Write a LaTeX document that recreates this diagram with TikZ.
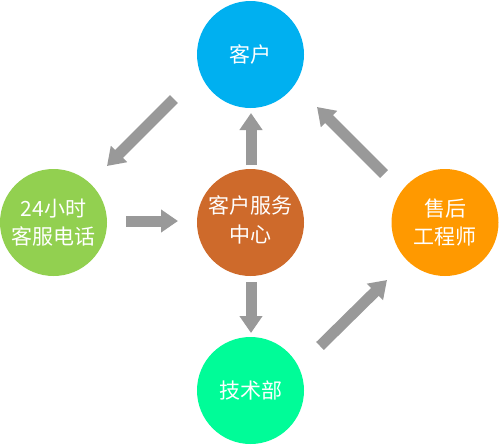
\documentclass[tikz,border=0pt]{standalone}
\usepackage{fontspec}
\setmainfont{Noto Sans CJK SC}
\usetikzlibrary{arrows.meta}
\definecolor{cblue}{RGB}{0,176,240}
\definecolor{cgreen}{RGB}{146,208,80}
\definecolor{cbrown}{RGB}{206,106,43}
\definecolor{corange}{RGB}{255,153,0}
\definecolor{cmint}{RGB}{0,252,152}
\definecolor{cgray}{RGB}{153,153,153}
\begin{document}
\begin{tikzpicture}[x=1pt,y=-1pt,
  ball/.style={circle,minimum size=107pt,inner sep=0pt,text=white,align=center,
    font=\fontsize{21pt}{28.5pt}\selectfont},
  blockarrow/.style={draw=cgray,line width=11pt,-{Triangle[length=17pt,width=22pt]}}]
\useasboundingbox (0,0) rectangle (500,445);
\node[ball,fill=cblue]   (kehu)  at (250.5,54.5)  {客户};
\node[ball,fill=cgreen]  (dianhua) at (53.5,222.5) {24小时\\客服电话};
\node[ball,fill=cbrown]  (zhongxin) at (250.5,222.5) {\raisebox{-3pt}{\begin{tabular}{@{}c@{}}客户服务\\中心\end{tabular}}};
\node[ball,fill=corange] (gongcheng) at (445,222.5) {售后\\工程师};
\node[ball,fill=cmint]   (jishu) at (250.5,390.5) {技术部};
\coordinate (a1s) at (174,99);  \coordinate (a1e) at (107,166);
\coordinate (a2s) at (251,165); \coordinate (a2e) at (251,113);
\coordinate (a3s) at (384,174); \coordinate (a3e) at (317,107);
\coordinate (a4s) at (126,221); \coordinate (a4e) at (178,221);
\coordinate (a5s) at (251,282); \coordinate (a5e) at (251,333);
\coordinate (a6s) at (320,346); \coordinate (a6e) at (387,280);
\draw[blockarrow] (a1s) -- (a1e);
\draw[blockarrow] (a2s) -- (a2e);
\draw[blockarrow] (a3s) -- (a3e);
\draw[blockarrow] (a4s) -- (a4e);
\draw[blockarrow] (a5s) -- (a5e);
\draw[blockarrow] (a6s) -- (a6e);
\end{tikzpicture}
\end{document}
